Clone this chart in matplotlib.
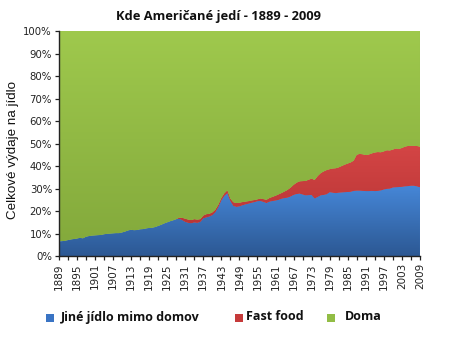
import matplotlib
matplotlib.use("Agg")
import matplotlib.pyplot as plt
from matplotlib.patches import Rectangle
from matplotlib.colors import LinearSegmentedColormap
import numpy as np

years = list(range(1889, 2010))

# Jiné jídlo mimo domov (% of total food spending)
jine = [6.5, 6.6, 6.8, 7.1, 7.4, 7.6, 7.8, 8.1, 7.9, 8.6,
        8.9, 9.1, 9.2, 9.3, 9.4, 9.7, 9.9, 10.0, 10.1, 10.2,
        10.2, 10.5, 10.9, 11.4, 11.7, 11.5, 11.6, 11.9, 12.0, 12.3,
        12.5, 12.6, 12.9, 13.4, 13.9, 14.5, 15.0, 15.5, 15.9, 16.4,
        16.6, 16.0, 15.2, 14.8, 14.6, 15.0, 14.8, 15.2, 16.8, 17.2,
        17.6, 18.2, 19.5, 21.8, 24.8, 26.8, 28.0, 24.5, 22.3, 21.9,
        22.1, 22.6, 23.0, 23.3, 23.7, 24.0, 24.4, 24.5, 24.1, 23.6,
        24.2, 24.5, 24.7, 25.0, 25.5, 25.8, 26.0, 26.5, 27.2, 27.6,
        27.8, 27.4, 27.0, 27.1, 27.2, 25.6, 26.3, 27.0, 27.2, 27.5,
        28.4, 28.2, 28.0, 28.2, 28.3, 28.4, 28.5, 28.6, 29.0, 29.1,
        29.1, 29.0, 28.9, 28.9, 29.0, 28.9, 29.0, 29.2, 29.6, 29.9,
        30.0, 30.5, 30.6, 30.7, 30.8, 31.0, 31.1, 31.3, 31.3, 31.0,
        30.6]

# Fast food (% of total food spending)
fast_food = [0.0] * 39 + [
        0.0, 0.5, 1.0, 1.4, 1.4, 1.4, 1.4, 1.4, 1.2, 1.2,
        1.4, 1.2, 1.2, 1.1, 1.0, 1.0, 1.1, 1.2, 1.0, 1.6,
        1.7, 1.6, 1.4, 1.2, 1.1, 1.0, 0.9, 0.8, 1.1, 1.2,
        1.4, 1.6, 1.8, 2.1, 2.4, 2.5, 2.9, 3.4, 3.9, 4.4,
        5.0, 5.4, 5.9, 6.4, 6.8, 7.2, 8.2, 9.2, 9.8, 10.4,
        10.7, 10.2, 10.7, 11.0, 11.2, 11.7, 12.2, 12.6, 13.0, 13.4,
        15.9, 16.3, 16.2, 16.0, 16.2, 16.6, 17.1, 17.2, 16.9, 16.9,
        17.1, 16.9, 16.8, 17.2, 16.9, 17.2, 17.6, 17.8, 17.7, 17.7,
        17.9, 18.0]

# Doma = remainder to 100 %
doma = [100 - a - b for a, b in zip(jine, fast_food)]

labels = ["Jiné jídlo mimo domov", "Fast food", "Doma"]
colors = ["#3a74c4", "#c63a3a", "#92bd45"]
# gradient (top colour, bottom colour) per series
grad = [("#4687d8", "#2c5893"), ("#d44545", "#b43333"), ("#9fc94d", "#84aa3c")]

title = "Kde Američané jedí - 1889 - 2009"
ylabel = "Celkové výdaje na jídlo"
xtick_years = list(range(1889, 2010, 6))

fig = plt.figure(figsize=(4.53, 3.37), dpi=100)
ax = fig.add_axes([0.130, 0.240, 0.797, 0.668])

x = np.array(years, dtype=float)
b1 = np.array(jine)
b2 = b1 + np.array(fast_food)
b3 = b2 + np.array(doma)
layers = [(np.zeros_like(b1), b1), (b1, b2), (b2, b3)]

for (lo, hi), (ctop, cbot), c in zip(layers, grad, colors):
    poly = ax.fill_between(x, lo, hi, facecolor=c, edgecolor="none", linewidth=0)
    ymin, ymax = float(lo.min()), float(hi.max())
    cmap = LinearSegmentedColormap.from_list("g", [cbot, ctop])
    gimg = np.linspace(0, 1, 256).reshape(-1, 1)
    im = ax.imshow(gimg, cmap=cmap, origin="lower", aspect="auto",
                   extent=[x[0], x[-1], ymin, ymax], interpolation="bilinear",
                   zorder=poly.get_zorder() + 0.01)
    im.set_clip_path(poly.get_paths()[0], transform=ax.transData)

ax.set_xlim(1889, 2009)
ax.set_ylim(0, 100)
ax.set_yticks(range(0, 101, 10))
ax.set_yticklabels([f"{v}%" for v in range(0, 101, 10)], fontsize=7.3,
                   family="DejaVu Sans", color="#222222")
ax.set_xticks(xtick_years)
ax.set_xticklabels([str(y) for y in xtick_years], rotation=90, fontsize=7.5,
                   family="DejaVu Sans", color="#222222")
ax.set_xticks(list(range(1889, 2010, 3)), minor=True)
ax.tick_params(axis="both", which="both", direction="out", length=3, width=0.9, color="#222222")
ax.tick_params(axis="x", which="major", pad=2)
ax.tick_params(axis="y", pad=2)

for s in ["top", "right"]:
    ax.spines[s].set_visible(False)
for s in ["left", "bottom"]:
    ax.spines[s].set_color("#222222")
    ax.spines[s].set_linewidth(1.0)
    ax.spines[s].set_zorder(5)

fig.text(0.483, 0.950, title, ha="center", va="center", fontsize=9.3,
         fontweight="bold", family="Open Sans", color="#111111")
fig.text(0.029, 0.555, ylabel, ha="center", va="center", rotation=90,
         fontsize=9.6, family="Liberation Sans", color="#111111")

# legend
leg_y = 1 - 317 / 337
items = [(46, 61), (235, 246), (327, 345)]
for (sx, tx), lab, c in zip(items, labels, colors):
    fig.patches.append(Rectangle((sx / 453, leg_y - 4.5 / 337), 8 / 453, 8 / 337,
                                 transform=fig.transFigure, facecolor=c,
                                 edgecolor="none", figure=fig))
    fig.text(tx / 453, leg_y, lab, ha="left", va="center", fontsize=9.0,
             fontweight="bold", family="Open Sans", color="#111111")

fig.savefig("out.png", dpi=100)
